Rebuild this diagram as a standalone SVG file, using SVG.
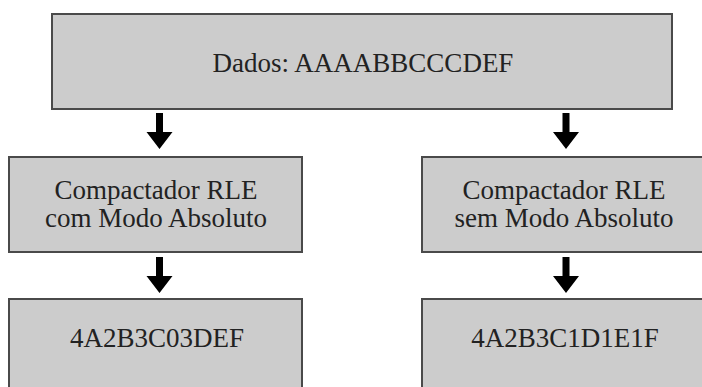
<svg xmlns="http://www.w3.org/2000/svg" width="702" height="387" viewBox="0 0 702 387">
<style>
.box{fill:#cccccc;stroke:#4a4a4a;stroke-width:2}
.t{font-family:'Liberation Serif','DejaVu Serif',serif;font-size:27px;fill:#222;text-anchor:middle}
.arr{fill:#000}
</style>
<defs>
<path id="arrow" d="M-3.5,0 H3.5 V19 H13 L0,36 L-13,19 H-3.5 Z"/>
</defs>
<rect width="702" height="387" fill="#fff"/>
<g id="dados">
<rect class="box" x="52" y="14" width="620" height="95"/>
<text class="t" font-family="Liberation Serif, serif" x="363" y="72">Dados: AAAABBCCCDEF</text>
</g>
<g id="comp-com">
<rect class="box" x="9" y="157" width="293" height="95"/>
<text class="t" x="156" y="199">Compactador RLE</text>
<text class="t" x="156" y="227">com Modo Absoluto</text>
</g>
<g id="comp-sem">
<rect class="box" x="422" y="157" width="284" height="95"/>
<text class="t" x="564" y="199">Compactador RLE</text>
<text class="t" x="564" y="227">sem Modo Absoluto</text>
</g>
<g id="out-com">
<rect class="box" x="9" y="299" width="293" height="95"/>
<text class="t" x="157" y="347">4A2B3C03DEF</text>
</g>
<g id="out-sem">
<rect class="box" x="422" y="299" width="284" height="95"/>
<text class="t" x="565" y="347">4A2B3C1D1E1F</text>
</g>
<g id="connectors" class="arr">
<use href="#arrow" x="159.5" y="113"/>
<use href="#arrow" x="566" y="113"/>
<use href="#arrow" x="159.5" y="257"/>
<use href="#arrow" x="566" y="257"/>
</g>
</svg>
